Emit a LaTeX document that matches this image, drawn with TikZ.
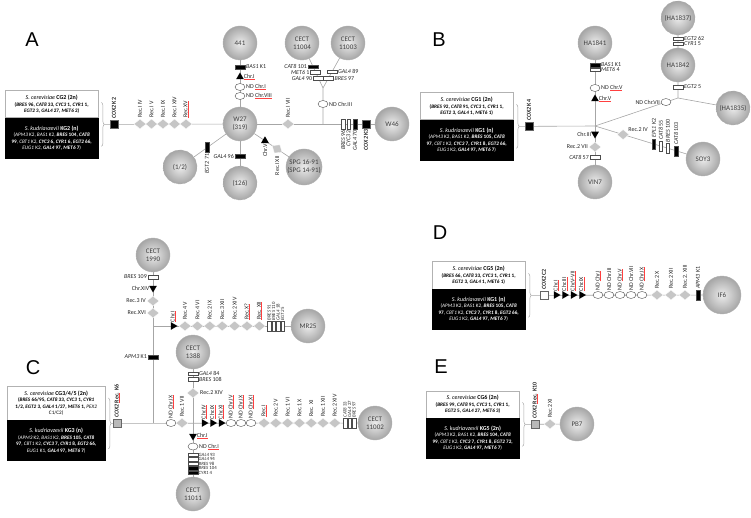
\documentclass[tikz,border=0pt]{standalone}
\usepackage{fontspec}
\setmainfont{Carlito}
\setsansfont{Liberation Sans}
\usetikzlibrary{shapes.geometric,decorations.pathreplacing,backgrounds,calc}

\newlength{\ulwidth}
\newcommand{\gname}[1]{\textit{#1}}
\newcommand{\redul}[1]{\settowidth{\ulwidth}{#1}\rlap{\textcolor{red!75}{\rule[-0.9pt]{\ulwidth}{0.3pt}}}#1}
\newcommand{\boxtitle}[1]{{\fontsize{6}{7}\selectfont #1}}

\begin{document}
\begin{tikzpicture}[x=1pt, y=-1pt]

        % Styles
        \tikzstyle{strain}=[circle, draw=gray!60, inner color=gray!15, outer color=gray!70, minimum size=34pt, inner sep=0pt, align=center, text=black!75, font=\fontsize{7}{8}\selectfont]
        \tikzstyle{lost}=[strain, dashed]
        \tikzstyle{lab}=[font=\fontsize{6}{6}\selectfont, text=black!85, inner sep=0.8pt]
        \tikzstyle{slab}=[lab, font=\fontsize{4.8}{4.8}\selectfont, inner sep=0.3pt]
        \tikzstyle{vl}=[lab, rotate=90, anchor=west]
        \tikzstyle{vlb}=[lab, rotate=90, anchor=east]
        \tikzstyle{rec}=[diamond, fill=gray!45, draw=white, line width=0.3pt, minimum width=12pt, minimum height=10pt, inner sep=0pt]
        \tikzstyle{nd}=[ellipse, draw=black!70, fill=white, line width=0.4pt, minimum width=10pt, minimum height=7pt, inner sep=0pt]
        \tikzstyle{tri}=[regular polygon, regular polygon sides=3, fill=black, minimum size=9pt, inner sep=0pt]
        \tikzstyle{hb}=[rectangle, draw=black!70, fill=black, line width=0.4pt, minimum width=10pt, minimum height=3.5pt, inner sep=0pt]
        \tikzstyle{hw}=[hb, fill=white]
        \tikzstyle{vb}=[hb, minimum width=3.5pt, minimum height=10pt]
        \tikzstyle{vw}=[vb, fill=white]
        \tikzstyle{cox}=[rectangle, draw=black!60, fill=black, minimum size=8pt, inner sep=0pt]
        \tikzstyle{cbox}=[rectangle, draw=gray!60, fill=white, anchor=north west, minimum width=93pt, minimum height=27pt, inner sep=1pt, align=center, font=\fontsize{5.2}{6.6}\selectfont]
        \tikzstyle{kbox}=[cbox, draw=black, fill=black, text=white, minimum height=40pt]
        \tikzstyle{panel}=[font=\fontsize{20}{20}\sffamily]
        \tikzstyle{ln}=[draw=gray!70, line width=0.6pt]
        \tikzstyle{brc}=[draw=gray!70, line width=0.5pt, decorate, decoration={brace, amplitude=3pt}]

        \useasboundingbox (0,0) rectangle (751,518);

        % Panneau A
        \node[panel] (pA) at (32,40) {A};
        \node[cbox] (cg2) at (5,90.5) {\boxtitle{\textit{S. cerevisiae} \textbf{CG2 (2n)}}\\ \textbf{(\gname{BRES} 96, \gname{CAT8} 33, \gname{CYC3} 1, \gname{CYR1} 1,}\\ \textbf{\gname{EGT2} 3, \gname{GAL4} 27, \gname{MET6} 2)}};
        \node[kbox] (kg2) at (cg2.south west) {\boxtitle{\textit{S. kudriavzevii} \textbf{KG2 (n)}}\\ (\gname{APM3} K2, \gname{BAS1} K2, \textbf{\gname{BRES} 104, \gname{CAT8}}\\ \textbf{99}, \gname{CBT1} K2, \textbf{\gname{CYC3} 6, \gname{CYR1} 6, \gname{EGT2} 66,}\\ \gname{EUG1} K2, \textbf{\gname{GAL4} 97, \gname{MET6} 7})};
        \coordinate (tA) at ($(cg2.north east)!.5!(kg2.south east)+(6.5,0)$);
        \node[cox, label={[vl]90:\textbf{\gname{COX2} K2}}] (coxA) at (114,124) {};
        \node[rec, label={[vl]90:Rec.I IV}] (rA1) at (140,124) {};
        \node[rec, label={[vl]90:Rec.I V}] (rA2) at (151.5,124) {};
        \node[rec, label={[vl]90:Rec.I IX}] (rA3) at (163,124) {};
        \node[rec, label={[vl]90:Rec.I XIV}] (rA4) at (174.5,124) {};
        \node[rec, label={[vl]90:\redul{Rec.XV}}] (rA5) at (186,124) {};
        \node[strain] (w27) at (240,124) {W27\\(319)};
        \node[rec, label={[vl]90:Rec.I VII}] (rA6) at (288,124) {};
        \coordinate (jA) at (323,124);
        \node[vw, label={[vlb]-90:\gname{BRES} 96}] (mA1) at (343,124) {};
        \node[vw, label={[vlb]-90:\gname{CYC3} 2}] (mA2) at (348.5,124) {};
        \node[vb, label={[vlb]-90:\gname{GAL4} 70}] (mA3) at (355,124) {};
        \node[cox, label={[vlb]-90:\textbf{\gname{COX2} K3}}] (coxA2) at (366,124) {};
        \node[strain] (w46) at (392,124) {W46};

        \node[strain] (s441) at (240,43) {441};
        \node[hb, label={[lab]0:\gname{BAS1} K1}] (mA4) at (240,67) {};
        \node[tri, label={[lab]0:\redul{Chr.I}}] (tA1) at (240,77) {};
        \node[nd, label={[lab]0:ND \redul{Chr.I}}] (nA1) at (240,87) {};
        \node[nd, label={[lab]0:ND \redul{Chr.VIII}}] (nA2) at (240,96) {};

        \coordinate (fA) at (323,88);
        \node[nd, label={[lab]0:ND Chr.III}] (nA3) at (323,104) {};
        \node[strain] (c11004) at (302,43) {CECT\\11004};
        \node[strain] (c11003) at (348,43) {CECT\\11003};
        \node[hb, label={[lab]180:\gname{CAT8} 101}] (mA5) at ($(fA)!.47!(c11004)$) {};
        \node[hw, label={[lab]180:\gname{MET6} 1}] (mA6) at ($(fA)!.35!(c11004)$) {};
        \node[hw, label={[lab]180:\gname{GAL4} 90}] (mA7) at ($(fA)!.22!(c11004)$) {};
        \node[hw, label={[lab]0:\gname{GAL4} 89}] (mA8) at ($(fA)!.36!(c11003)$) {};
        \node[hw, label={[lab]0:\gname{BRES} 97}] (mA9) at ($(fA)!.22!(c11003)$) {};

        \node[lost] (s126) at (240,183) {(126)};
        \node[hb, label={[lab]180:\gname{GAL4} 96}] (mA10) at (240,156) {};
        \node[lost] (s12) at (180,167) {(1/2)};
        \node[vb, label={[vlb]-90:\gname{EGT2} 71}] (mA11) at ($(w27)!.55!(s12)$) {};
        \node[strain] (spg) at (304,167) {SPG 16-91\\(SPG 14-91)};
        \node[tri, label={[vlb]-90:Chr.V}] (tA2) at ($(w27)!.39!(spg)$) {};
        \node[rec, rotate=-34] (rA7) at ($(w27)!.58!(spg)$) {};
        \node[vlb] (lA7) at ([yshift=-6pt]rA7.center) {Rec.I XII};

        % Panneau B
        \node[panel] (pB) at (439,40) {B};
        \node[cbox] (cg1) at (420,92.5) {\boxtitle{\textit{S. cerevisiae} \textbf{CG1 (2n)}}\\ \textbf{(\gname{BRES} 92, \gname{CAT8} 91, \gname{CYC3} 1, \gname{CYR1} 1,}\\ \textbf{\gname{EGT2} 3, \gname{GAL4} 1, \gname{MET6} 1)}};
        \node[kbox] (kg1) at (cg1.south west) {\boxtitle{\textit{S. kudriavzevii} \textbf{KG1 (n)}}\\ (\gname{APM3} K2, \gname{BAS1} K2, \textbf{\gname{BRES} 105, \gname{CAT8}}\\ \textbf{97}, \gname{CBT1} K2, \textbf{\gname{CYC3} 7, \gname{CYR1} 8, \gname{EGT2} 66,}\\ \gname{EUG1} K2, \textbf{\gname{GAL4} 97, \gname{MET6} 7})};
        \coordinate (tB) at ($(cg1.north east)!.5!(kg1.south east)+(6.5,0)$);
        \node[cox, label={[vl]90:\textbf{\gname{COX2} K4}}] (coxB) at (529,126) {};
        \coordinate (jB) at (595,126);
        \node[strain] (ha1841) at (595,43) {HA1841};
        \node[hb, label={[lab]0:\gname{BAS1} K1}] (mB1) at (595,65) {};
        \node[hw, label={[lab]0:\gname{MET6} 4}] (mB2) at (595,69.5) {};
        \node[nd, label={[lab]0:ND \redul{Chr.V}}] (nB1) at (595,88) {};
        \node[tri, label={[lab]0:\redul{Chr.V}}] (tB1) at (595,99) {};
        \node[tri, shape border rotate=180, label={[lab]180:Chr.III}] (tB2) at (595,134) {};
        \node[rec, label={[lab]180:Rec.2 VII}] (rB1) at (595,147) {};
        \node[hw, label={[lab]180:\gname{CAT8} 57}] (mB3) at (595,157) {};
        \node[strain] (vin7) at (595,182) {VIN7};

        \coordinate (kB) at (678,98);
        \node[nd, label={[lab]180:ND Chr.VII}] (nB2) at ($(jB)!.855!(kB)$) {};
        \node[strain] (ha1842) at (678,65) {HA1842};
        \node[hw, label={[lab]0:\gname{EGT2} 5}] (mB4) at (678,87) {};
        \node[lost] (ha1837) at (678,18) {(HA1837)};
        \node[hw, label={[lab]0:\gname{EGT2} 62}] (mB5) at (678,38.5) {};
        \node[hw, label={[lab]0:\gname{CYR1} 5}] (mB6) at (678,43.5) {};
        \node[lost] (ha1835) at (733,108) {(HA1835)};
        \node[strain] (soy3) at (703,159) {SOY3};
        \node[rec, label={[lab]20:Rec.2 IV}] (rB2) at ($(jB)!.26!(soy3)$) {};
        \node[vb, label={[vl]90:\gname{EPL1} K2}] (mB7) at ($(jB)!.545!(soy3)$) {};
        \node[vw, label={[vl]90:\gname{CAT8} 55}] (mB8) at ($(jB)!.61!(soy3)$) {};
        \node[vw, label={[vl]90:\gname{BRES} 100}] (mB9) at ($(jB)!.675!(soy3)$) {};
        \node[vb, label={[vl]90:\gname{CAT8} 103}] (mB10) at ($(jB)!.75!(soy3)$) {};

        % Panneau C
        \node[panel] (pC) at (33,368) {C};
        \node[cbox, minimum width=98pt, minimum height=34pt] (cg345) at (7,386) {\boxtitle{\textit{S. cerevisiae} \textbf{CG3/4/5 (2n)}}\\ \textbf{(\gname{BRES} 66/95, \gname{CAT8} 33, \gname{CYC3} 1, \gname{CYR1}}\\ \textbf{1/2, \gname{EGT2} 3, \gname{GAL4} 1/27, \gname{MET6} 1,} \gname{PEX2}\\ C1/C2)};
        \node[kbox, minimum width=98pt] (kg3) at (cg345.south west) {\boxtitle{\textit{S. kudriavzevii} \textbf{KG3 (n)}}\\ (\gname{APM3} K2, \gname{BAS1} K2, \textbf{\gname{BRES} 105, \gname{CAT8}}\\ \textbf{97}, \gname{CBT1} K2, \textbf{\gname{CYC3} 7, \gname{CYR1} 8, \gname{EGT2} 66,}\\ \gname{EUG1} K1, \textbf{\gname{GAL4} 97, \gname{MET6} 7})};
        \coordinate (tC) at ($(cg345.north east)!.5!(kg3.south east)+(6.5,0)$);
        \node[cox, fill=gray!55, label={[vl]90:\textbf{\gname{COX2} \redul{Rec.} K6}}] (coxC) at (117,423) {};
        \coordinate (jC1) at (153,423);
        \node[strain] (c1990) at (153,255) {CECT\\1990};
        \node[hw, label={[lab]180:\gname{BRES} 109}] (mC1) at (153,277) {};
        \node[tri, shape border rotate=180, label={[lab]180:Chr.XIV}] (tC1) at (153,288) {};
        \node[rec, label={[lab]180:Rec.3 IV}] (rC1) at (153,301) {};
        \node[rec, label={[lab]180:Rec.XVI}] (rC2) at (153,313) {};
        \coordinate (bC) at (153,326);
        \node[hb, label={[lab]180:\gname{APM3} K1}] (mC2) at (153,357) {};

        \node[tri, shape border rotate=-90, label={[vl]90:\redul{Chr.I}}] (tC2) at (173,326) {};
        \node[rec, label={[vl]90:Rec.4 V}] (rC3) at (185,326) {};
        \node[rec, label={[vl]90:Rec.4 VI}] (rC4) at (197.4,326) {};
        \node[rec, label={[vl]90:Rec.2 IX}] (rC5) at (209.8,326) {};
        \node[rec, label={[vl]90:Rec.3 XII}] (rC6) at (222.2,326) {};
        \node[rec, label={[vl]90:Rec.2 XIV}] (rC7) at (234.6,326) {};
        \node[rec, label={[vl]90:\redul{Rec.X?}}] (rC8) at (247,326) {};
        \node[rec, label={[vl]90:\redul{Rec. XII}}] (rC9) at (259.4,326) {};
        \node[vw, label={[vl,slab]90:\gname{BRES} 91}] (mC6) at (269,326) {};
        \node[vw, label={[vl,slab]90:\gname{BRES} 110}] (mC7) at (273.5,326) {};
        \node[vw, label={[vl,slab]90:\gname{GAL4} 18}] (mC8) at (278,326) {};
        \node[vw, label={[vl,slab]90:\gname{EGT2} 5}] (mC9) at (282.5,326) {};
        \node[strain] (mr25) at (308,326) {MR25};

        \node[strain] (c1388) at (193,352) {CECT\\1388};
        \node[hw, label={[lab]0:\gname{GAL4} 84}] (mC3) at (193,373.5) {};
        \node[hw, label={[lab]0:\gname{BRES} 108}] (mC4) at (193,379) {};
        \node[rec, label={[lab]0:Rec.2 XIV}] (rC10) at (193,393) {};
        \coordinate (jC2) at (193,423);
        \node[nd, label={[vl]90:ND \redul{Chr.IX}}] (nC1) at (171,423) {};
        \node[rec, label={[vl]90:Rec.1 VII}] (rC11) at (182,423) {};

        \node[tri, shape border rotate=180, label={[lab]0:\redul{Chr.I}}] (tC3) at (193,436) {};
        \node[nd, label={[lab]0:ND \redul{Chr.I}}] (nC2) at (193,446.5) {};
        \node[hw, label={[slab]0:\gname{GAL4} 93}] (mC10) at (193,454.5) {};
        \node[hw, label={[slab]0:\gname{GAL4} 94}] (mC11) at (193,459) {};
        \node[hw, label={[slab]0:\gname{BRES} 98}] (mC12) at (193,463.5) {};
        \node[hb, label={[slab]0:\gname{BRES} 104}] (mC13) at (193,468) {};
        \node[hb, label={[slab]0:\gname{CYR1} 4}] (mC14) at (193,472.5) {};
        \node[strain] (c11011) at (193,494) {CECT\\11011};

        \node[tri, shape border rotate=-90, label={[vl]90:\redul{Chr.IV}}] (tC4) at (204,423) {};
        \node[tri, shape border rotate=-90, label={[vl]90:\redul{Chr.IX}}] (tC5) at (212.5,423) {};
        \node[tri, shape border rotate=-90, label={[vl]90:\redul{Chr.XI}}] (tC6) at (221,423) {};
        \node[nd, label={[vl]90:ND \redul{Chr.IV}}] (nC3) at (231,423) {};
        \node[nd, label={[vl]90:ND \redul{Chr.IX}}] (nC4) at (241,423) {};
        \node[nd, label={[vl]90:ND \redul{Chr.XI}}] (nC5) at (251,423) {};
        \node[rec, label={[vl]90:\redul{Rec.I}}] (rC12) at (264,423) {};
        \node[rec, label={[vl]90:Rec.2 V}] (rC13) at (275.8,423) {};
        \node[rec, label={[vl]90:Rec.1 VI}] (rC14) at (287.6,423) {};
        \node[rec, label={[vl]90:Rec.1 X}] (rC15) at (299.4,423) {};
        \node[rec, label={[vl]90:Rec. XI}] (rC16) at (311.2,423) {};
        \node[rec, label={[vl]90:Rec.1 XII}] (rC17) at (323,423) {};
        \node[rec, label={[vl]90:Rec.2 XIV}] (rC18) at (334.8,423) {};
        \node[vw, label={[vl,slab]90:\gname{CAT8} 33}] (mC15) at (345,423) {};
        \node[vw, label={[vl,slab]90:\gname{GAL4} 27}] (mC16) at (349.5,423) {};
        \node[vw, label={[vl,slab]90:\gname{BRES} 97}] (mC17) at (354,423) {};
        \node[strain] (c11002) at (375,423) {CECT\\11002};

        % Panneau D
        \node[panel] (pD) at (440,233) {D};
        \node[cbox] (cg5) at (432,261.5) {\boxtitle{\textit{S. cerevisiae} \textbf{CG5 (2n)}}\\ \textbf{(\gname{BRES} 66, \gname{CAT8} 33, \gname{CYC3} 1, \gname{CYR1} 1,}\\ \textbf{\gname{EGT2} 3, \gname{GAL4} 1, \gname{MET6} 1)}};
        \node[kbox] (kg1d) at (cg5.south west) {\boxtitle{\textit{S. kudriavzevii} \textbf{KG1 (n)}}\\ (\gname{APM3} K2, \gname{BAS1} K2, \textbf{\gname{BRES} 105, \gname{CAT8}}\\ \textbf{97}, \gname{CBT1} K2, \textbf{\gname{CYC3} 7, \gname{CYR1} 8, \gname{EGT2} 66,}\\ \gname{EUG1} K2, \textbf{\gname{GAL4} 97, \gname{MET6} 7})};
        \coordinate (tD) at ($(cg5.north east)!.5!(kg1d.south east)+(6.5,0)$);
        \node[cox, fill=white, label={[vl]90:\textbf{\gname{COX2} C2}}] (coxD) at (544,295) {};
        \node[tri, shape border rotate=-90, label={[vl]90:\redul{Chr.I}}] (tD1) at (556,295) {};
        \node[tri, shape border rotate=-90, label={[vl]90:\redul{Chr.III}}] (tD2) at (564.5,295) {};
        \node[tri, shape border rotate=-90, label={[vl]90:\redul{Chr.V-VII}}] (tD3) at (573,295) {};
        \node[tri, shape border rotate=-90, label={[vl]90:\redul{Chr.IX}}] (tD4) at (581.5,295) {};
        \node[nd, label={[vl]90:ND \redul{Chr.I}}] (nD1) at (598,295) {};
        \node[nd, label={[vl]90:ND Chr.III}] (nD2) at (609,295) {};
        \node[nd, label={[vl]90:ND \redul{Chr.V}}] (nD3) at (620,295) {};
        \node[nd, label={[vl]90:ND Chr.VII}] (nD4) at (631,295) {};
        \node[nd, label={[vl]90:ND \redul{Chr.IX}}] (nD5) at (642,295) {};
        \node[rec, label={[vl]90:Rec.2 X}] (rD1) at (657,295) {};
        \node[rec, label={[vl]90:Rec.2 XII}] (rD2) at (671,295) {};
        \node[rec, label={[vl]90:Rec.2. XIII}] (rD3) at (685,295) {};
        \node[vb, label={[vl]90:\gname{APM3} K1}] (mD1) at (698,295) {};
        \node[strain, minimum size=38pt] (if6) at (722,295) {IF6};

        % Panneau E
        \node[panel] (pE) at (441,367) {E};
        \node[cbox] (cg6) at (426,390.5) {\boxtitle{\textit{S. cerevisiae} \textbf{CG6 (2n)}}\\ \textbf{(\gname{BRES} 99, \gname{CAT8} 91, \gname{CYC3} 1, \gname{CYR1} 1,}\\ \textbf{\gname{EGT2} 5, \gname{GAL4} 27, \gname{MET6} 3)}};
        \node[kbox] (kg5) at (cg6.south west) {\boxtitle{\textit{S. kudriavzevii} \textbf{KG5 (2n)}}\\ (\gname{APM3} K2, \gname{BAS1} K2, \textbf{\gname{BRES} 104, \gname{CAT8}}\\ \textbf{99}, \gname{CBT1} K2, \textbf{\gname{CYC3} 7, \gname{CYR1} 8, \gname{EGT2} 72,}\\ \gname{EUG1} K2, \textbf{\gname{GAL4} 97, \gname{MET6} 7})};
        \coordinate (tE) at ($(cg6.north east)!.5!(kg5.south east)+(6.5,0)$);
        \node[cox, fill=gray!55, label={[vl]90:\textbf{\gname{COX2} \redul{Rec.} K10}}] (coxE) at (535,424) {};
        \node[rec, label={[vl]90:Rec.2 XI}] (rE1) at (550,424) {};
        \node[strain] (pb7) at (577,424) {PB7};

        % Lignes
        \begin{scope}[on background layer]
        \draw[brc] ([xshift=3pt,yshift=-12pt]cg2.north east) -- ([xshift=3pt,yshift=12pt]kg2.south east);
        \draw[brc] ([xshift=3pt,yshift=-12pt]cg1.north east) -- ([xshift=3pt,yshift=12pt]kg1.south east);
        \draw[brc] ([xshift=3pt,yshift=-12pt]cg345.north east) -- ([xshift=3pt,yshift=12pt]kg3.south east);
        \draw[brc] ([xshift=3pt,yshift=-12pt]cg5.north east) -- ([xshift=3pt,yshift=12pt]kg1d.south east);
        \draw[brc] ([xshift=3pt,yshift=-12pt]cg6.north east) -- ([xshift=3pt,yshift=12pt]kg5.south east);

        \draw[ln] (tA) -- (w27);
        \draw[ln] (w27) -- (w46);
        \draw[ln] (w27) -- (s441);
        \draw[ln] (jA) -- (fA) -- (c11004);
        \draw[ln] (fA) -- (c11003);
        \draw[ln] (w27) -- (s126);
        \draw[ln] (w27) -- (s12);
        \draw[ln] (w27) -- (spg);

        \draw[ln] (tB) -- (jB);
        \draw[ln] (jB) -- (ha1841);
        \draw[ln] (jB) -- (vin7);
        \draw[ln] (jB) -- (kB) -- (ha1842) -- (ha1837);
        \draw[ln] (kB) -- (ha1835);
        \draw[ln] (jB) -- (soy3);

        \draw[ln] (tC) -- (c11002);
        \draw[ln] (c1990) -- (jC1);
        \draw[ln] (bC) -- (mr25);
        \draw[ln] (c1388) -- (c11011);

        \draw[ln] (tD) -- (if6);
        \draw[ln] (tE) -- (pb7);
        \end{scope}

    \end{tikzpicture}
\end{document}
